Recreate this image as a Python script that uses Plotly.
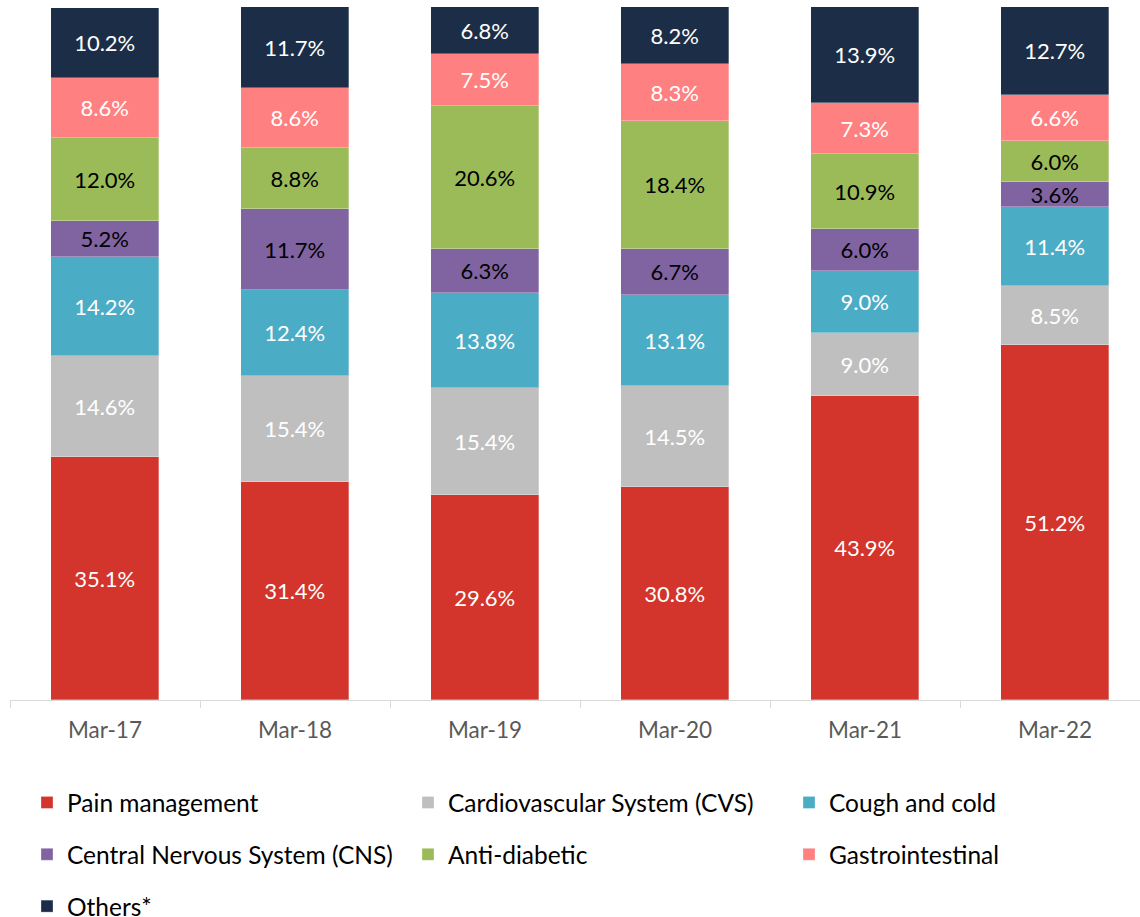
import plotly.graph_objects as go

# Therapy-area share of sales (%), stacked bottom to top
years = ["Mar-17", "Mar-18", "Mar-19", "Mar-20", "Mar-21", "Mar-22"]

pain_management = [35.1, 31.4, 29.6, 30.8, 43.9, 51.2]
cardiovascular = [14.6, 15.4, 15.4, 14.5, 9.0, 8.5]
cough_and_cold = [14.2, 12.4, 13.8, 13.1, 9.0, 11.4]
central_nervous = [5.2, 11.7, 6.3, 6.7, 6.0, 3.6]
anti_diabetic = [12.0, 8.8, 20.6, 18.4, 10.9, 6.0]
gastrointestinal = [8.6, 8.6, 7.5, 8.3, 7.3, 6.6]
others = [10.2, 11.7, 6.8, 8.2, 13.9, 12.7]

FONT = "Lato"
pos = list(range(len(years)))

series = [
    # name, values, fill, label colour, legend id
    ("Pain management", pain_management, "#D3342B", "white", "legend"),
    ("Cardiovascular System (CVS)", cardiovascular, "#BFBFBF", "white", "legend2"),
    ("Cough and cold", cough_and_cold, "#4BACC6", "white", "legend3"),
    ("Central Nervous System (CNS)", central_nervous, "#8064A2", "black", "legend"),
    ("Anti-diabetic", anti_diabetic, "#9BBB59", "black", "legend2"),
    ("Gastrointestinal", gastrointestinal, "#FF8080", "white", "legend3"),
    ("Others*", others, "#1C2E47", "white", "legend"),
]

fig = go.Figure()
for i, (name, vals, color, txt, leg) in enumerate(series):
    fig.add_trace(go.Bar(
        name=name,
        x=pos,
        y=vals,
        width=0.568,
        marker=dict(color=color, line=dict(color="rgba(255,255,255,0.5)", width=0.6)),
        text=[f"{v:.1f}%" for v in vals],
        textposition="inside",
        insidetextanchor="middle",
        textangle=0,
        constraintext="none",
        insidetextfont=dict(family=FONT, size=22, color=txt),
        legend=leg,
        legendgroup=f"g{i}",
        hoverinfo="skip",
    ))

W, H = 1140, 917


def legend_box(x_px, y_px):
    return dict(
        xref="container", yref="container",
        x=x_px / W, y=1 - y_px / H,
        xanchor="left", yanchor="top",
        orientation="v",
        traceorder="grouped",
        tracegroupgap=17,
        font=dict(family=FONT, size=24.5, color="black"),
        bgcolor="rgba(0,0,0,0)",
        borderwidth=0,
    )


# category boundaries carry the outside tick marks
boundaries = [p - 0.5 for p in pos] + [pos[-1] + 0.5]

fig.update_layout(
    width=W,
    height=H,
    barmode="stack",
    bargap=0,
    plot_bgcolor="white",
    paper_bgcolor="white",
    margin=dict(l=10, r=0, t=7, b=217, autoexpand=False),
    showlegend=True,
    legend=legend_box(27, 780),
    legend2=legend_box(408, 780),
    legend3=legend_box(789, 780),
    xaxis=dict(
        range=[-0.5, 5.447],
        tickmode="array",
        tickvals=pos,
        ticktext=years,
        ticks="",
        ticklabelstandoff=10,
        showline=True,
        linecolor="#D9D9D9",
        linewidth=1,
        minor=dict(
            tickmode="array",
            tickvals=boundaries,
            ticks="outside",
            ticklen=7,
            tickcolor="#D9D9D9",
            showgrid=False,
        ),
        tickfont=dict(family=FONT, size=22.5, color="#595959"),
        tickangle=0,
        showgrid=False,
        zeroline=False,
        fixedrange=True,
    ),
    yaxis=dict(
        range=[0, 100],
        visible=False,
        showgrid=False,
        zeroline=False,
        fixedrange=True,
    ),
)

fig.write_html("out.html")
